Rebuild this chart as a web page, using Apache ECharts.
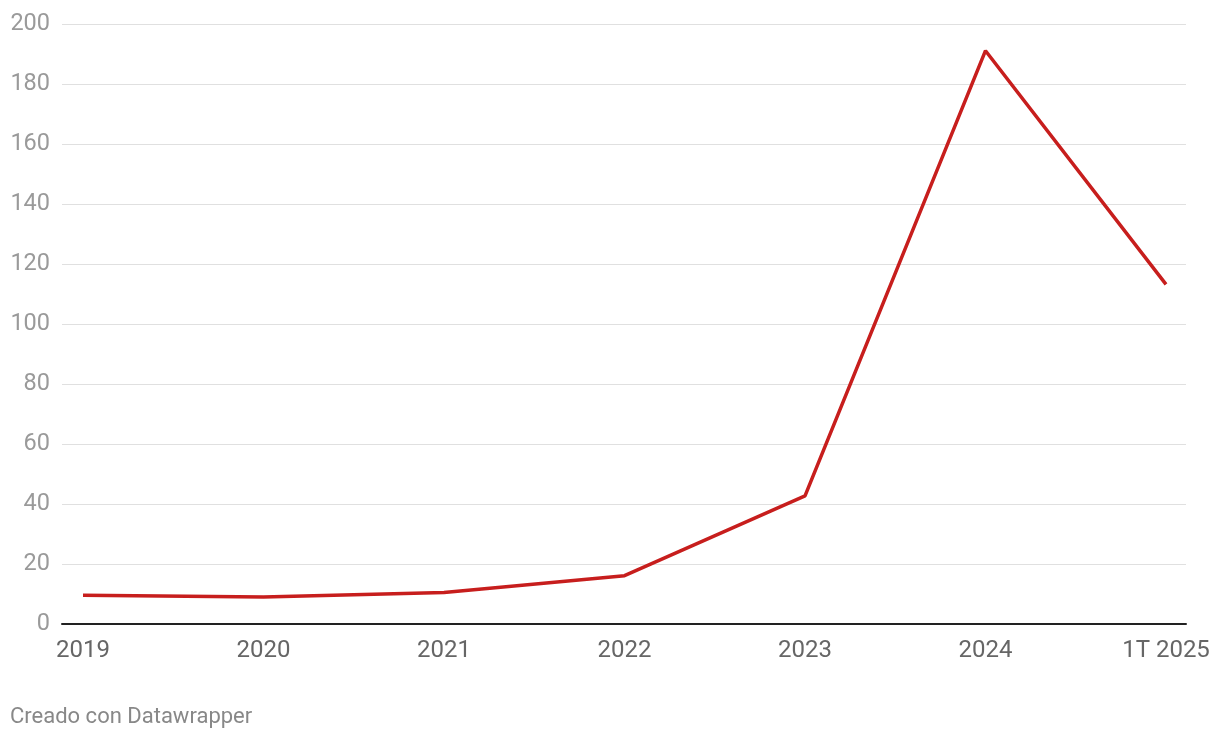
<!DOCTYPE html>
<html>
<head>
<meta charset="utf-8">
<script src="https://cdn.jsdelivr.net/npm/echarts@6/dist/echarts.min.js"></script>
<style>
html,body{margin:0;padding:0;background:#fff;}
#chart{width:1220px;height:740px;}
</style>
</head>
<body>
<div id="chart"></div>
<script>
const categories = ['2019', '2020', '2021', '2022', '2023', '2024', '1T 2025'];
const values = [9.6, 9.0, 10.5, 16.1, 42.7, 191.1, 113.2];
const yTicks = { min: 0, max: 200, interval: 20 };

const chart = echarts.init(document.getElementById('chart'));
const font = 'Roboto, "Noto Sans", sans-serif';
chart.setOption({
  animation: false,
  backgroundColor: '#ffffff',
  grid: [
    { left: 62, right: 34, top: 24, bottom: 116 },
    { left: 83, right: 54, top: 24, bottom: 116 }
  ],
  xAxis: [
    {
      gridIndex: 0, type: 'value', min: 0, max: 1,
      axisLine: { show: true, onZero: true, lineStyle: { color: '#222', width: 2 } },
      axisTick: { show: false }, axisLabel: { show: false }, splitLine: { show: false }
    },
    {
      gridIndex: 1, type: 'category', data: categories, boundaryGap: false,
      axisLine: { show: false }, axisTick: { show: false }, splitLine: { show: false },
      axisLabel: { color: '#666', fontSize: 24, fontFamily: font, margin: 15, interval: 0 }
    }
  ],
  yAxis: [
    {
      gridIndex: 0, type: 'value', min: yTicks.min, max: yTicks.max, interval: yTicks.interval,
      axisLine: { show: false }, axisTick: { show: false },
      axisLabel: { color: '#9a9a9a', fontSize: 23.5, fontFamily: font, margin: 12 },
      splitLine: { show: true, lineStyle: { color: '#e0e0e0', width: 1 } }
    },
    {
      gridIndex: 1, type: 'value', min: yTicks.min, max: yTicks.max, interval: yTicks.interval,
      axisLine: { show: false }, axisTick: { show: false }, axisLabel: { show: false },
      splitLine: { show: false }
    }
  ],
  series: [{
    type: 'line', xAxisIndex: 1, yAxisIndex: 1, data: values,
    symbol: 'none', lineStyle: { color: '#c71e1d', width: 3.5 }, z: 5
  }],
  graphic: [{
    type: 'text', left: 10, top: 706,
    style: { text: 'Creado con Datawrapper', fill: '#888', fontSize: 22, fontFamily: font }
  }]
});
</script>
</body>
</html>
